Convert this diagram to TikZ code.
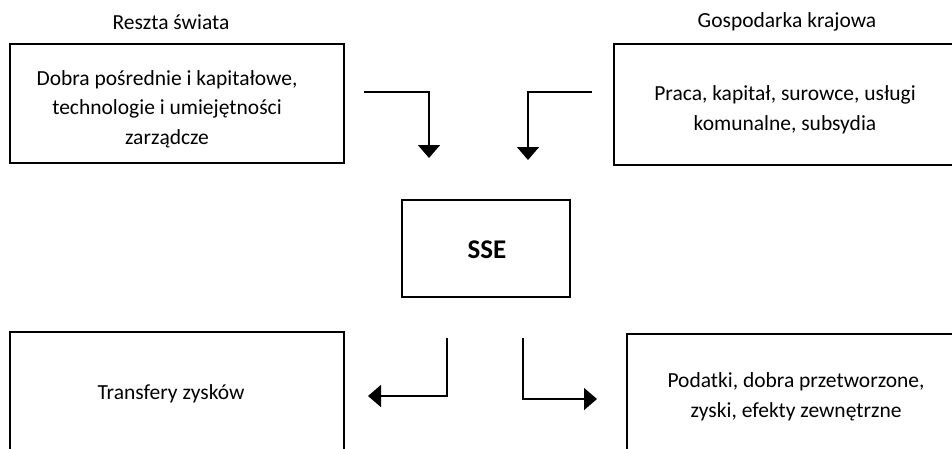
\documentclass[tikz,border=0pt]{standalone}
\usepackage{fontspec}
\setmainfont{Carlito}
\usetikzlibrary{arrows.meta}
\begin{document}
\begin{tikzpicture}[x=1pt,y=-1pt,
 box/.style={draw=black, line width=1.1pt, inner sep=0pt},
 txt/.style={font=\fontsize{21.5}{29.5}\selectfont, align=center, inner sep=0pt},
 flow/.style={line width=1.6pt, -{Triangle[length=13pt,width=22pt]}}]
\useasboundingbox (0,0) rectangle (952,448);
\clip (0,0) rectangle (952,448);
% headers
\node[txt] (h1) at (171,22) {Reszta świata};
\node[txt] (h2) at (787,22) {Gospodarka krajowa};
% boxes
\node[box, minimum width=334pt, minimum height=119pt] (b1) at (177,103.5) {};
\node[txt] (t1) at (167,109) {Dobra pośrednie i kapitałowe,\\technologie i umiejętności\\zarządcze};
\node[box, minimum width=350pt, minimum height=121pt] (b2) at (789,104.5) {};
\node[txt] (t2) at (785,110) {Praca, kapitał, surowce, usługi\\komunalne, subsydia};
\node[box, minimum width=168pt, minimum height=97pt] (sse) at (486,248.5) {};
\node[txt, font=\fontsize{27}{29}\selectfont\bfseries] (t3) at (487,250) {SSE};
\node[box, minimum width=334pt, minimum height=130pt] (b4) at (177,397) {};
\node[txt] (t4) at (171,394) {Transfery zysków};
\node[box, minimum width=340pt, minimum height=130pt] (b5) at (797,399) {};
\node[txt] (t5) at (796,397) {Podatki, dobra przetworzone,\\zyski, efekty zewnętrzne};
% arrow end points
\coordinate (a1s) at (364,92);  \coordinate (a1e) at (429,158);
\coordinate (a2s) at (592,92);  \coordinate (a2e) at (528,160);
\coordinate (a3s) at (447,338); \coordinate (a3e) at (368,396);
\coordinate (a4s) at (523,338); \coordinate (a4e) at (597,399);
\draw[flow] (a1s) -| (a1e);
\draw[flow] (a2s) -| (a2e);
\draw[flow] (a3s) |- (a3e);
\draw[flow] (a4s) |- (a4e);
\end{tikzpicture}
\end{document}
